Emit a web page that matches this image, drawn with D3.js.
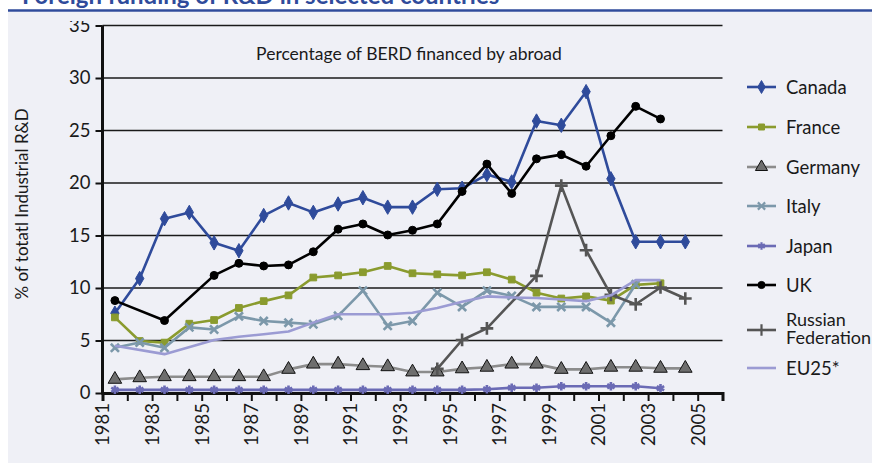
<!DOCTYPE html>
<html>
<head>
<meta charset="utf-8">
<script src="https://cdn.jsdelivr.net/npm/d3@7"></script>
<style>
  body { margin: 0; background: #fff; }
  text { font-family: Lato, "Open Sans", sans-serif; fill: #1a1a1a; }
</style>
</head>
<body>
<div class="chart"></div>
<script>
// years 1981..2004, null = no value
var years = d3.range(1981, 2005);
var canada  = [7.6,10.9,16.6,17.2,14.3,13.55,16.9,18.1,17.2,18.0,18.6,17.7,17.7,19.4,19.5,20.8,20.1,25.9,25.5,28.7,20.4,14.4,14.4,14.4];
var france  = [7.2,4.95,4.8,6.6,6.95,8.1,8.75,9.3,11.0,11.2,11.5,12.1,11.4,11.3,11.2,11.5,10.8,9.55,9.0,9.2,8.8,10.3,10.45,null];
var germany = [1.3,1.45,1.55,1.55,1.55,1.55,1.55,2.25,2.75,2.75,2.6,2.5,2.0,2.0,2.3,2.45,2.75,2.75,2.25,2.25,2.45,2.45,2.35,2.35];
var italy   = [4.3,4.8,4.3,6.25,6.05,7.3,6.85,6.7,6.55,7.35,9.75,6.4,6.85,9.55,8.2,9.75,9.25,8.2,8.2,8.2,6.7,10.35,null,null];
var japan   = [0.3,0.3,0.3,0.3,0.3,0.3,0.3,0.3,0.3,0.3,0.3,0.3,0.3,0.3,0.3,0.35,0.5,0.5,0.65,0.65,0.65,0.65,0.45,null];
var uk      = [8.8,null,6.9,null,11.2,12.35,12.1,12.2,13.45,15.6,16.1,15.05,15.5,16.1,19.2,21.8,19.0,22.3,22.7,21.6,24.5,27.3,26.1,null];
var russia  = [null,null,null,null,null,null,null,null,null,null,null,null,null,2.3,5.05,6.15,null,11.15,19.75,13.6,9.35,8.45,10.05,9.0];
var eu25    = [4.5,null,3.7,null,5.05,5.35,5.6,5.85,6.7,7.5,7.5,7.5,7.65,8.1,8.7,9.2,9.1,9.05,8.9,8.75,9.3,10.75,10.75,null];

var yTicks = [0,5,10,15,20,25,30,35];
var xLabels = d3.range(1981, 2006, 2);

var series = [
  {name:"Canada", values:canada, color:"#2f4b9b", symbol:d3.symbolDiamond, size:60, fill:true},
  {name:"France", values:france, color:"#8a9b2e", symbol:d3.symbolSquare, size:45, fill:true},
  {name:"Germany", values:germany, color:"#8c8c8c", symbol:d3.symbolTriangle, size:80, fill:true, mfill:"#6e6e6e", mstroke:"#111"},
  {name:"Italy", values:italy, color:"#7c98aa", symbol:d3.symbolX, size:45, fill:false},
  {name:"Japan", values:japan, color:"#6b6bb5", symbol:d3.symbolAsterisk, size:50, fill:false},
  {name:"UK", values:uk, color:"#000000", symbol:d3.symbolCircle, size:50, fill:true},
  {name:"Russian Federation", values:russia, color:"#555555", symbol:d3.symbolPlus, size:55, fill:false},
  {name:"EU25*", values:eu25, color:"#9b9bd3", symbol:null}
];

var W = 872, H = 463;
var svg = d3.select(".chart").append("svg")
  .attr("width", W).attr("height", H);

// page title (cut off at top) and rule
svg.append("text")
  .attr("x", 22).attr("y", 4)
  .style("font-size", "24px").style("font-weight", "bold")
  .style("fill", "#2f4b9b")
  .text("Foreign funding of R&D in selected countries");
svg.append("rect").attr("x", 8).attr("y", 12).attr("width", W - 8).attr("height", H - 12)
  .attr("fill", "#eff0f6");
svg.append("line").attr("x1", 8).attr("x2", W).attr("y1", 10.5).attr("y2", 10.5)
  .attr("stroke", "#2f4b9b").attr("stroke-width", 2.5);

var x = d3.scaleLinear().domain([1981, 2006]).range([102.5, 722.5]);
var y = d3.scaleLinear().domain([0, 35]).range([393, 25.5]);

svg.append("defs").append("clipPath").attr("id", "cut")
  .append("rect").attr("x", -200).attr("y", 21).attr("width", W).attr("height", H);

// gridlines
svg.append("g").selectAll("line")
  .data(yTicks.filter(function(d){ return d > 0; }))
  .enter().append("line")
  .attr("x1", x(1981)).attr("x2", x(2006))
  .attr("y1", function(d){ return y(d); }).attr("y2", function(d){ return y(d); })
  .attr("stroke", "#1a1a1a").attr("stroke-width", 1.3);

// y axis
var yAxis = svg.append("g")
  .attr("transform", "translate(" + x(1981) + ",0)")
  .attr("clip-path", "url(#cut)")
  .call(d3.axisLeft(y).tickValues(yTicks).tickSize(7).tickPadding(5));
yAxis.select(".domain").remove();
yAxis.selectAll(".tick line").attr("stroke", "#111").attr("stroke-width", 2);
yAxis.selectAll(".tick text").style("font-size", "18.5px").style("font-family", "Lato, sans-serif").attr("fill", "#1a1a1a");
svg.append("line").attr("x1", x(1981)).attr("x2", x(1981)).attr("y1", y(35)).attr("y2", y(0) + 1.5)
  .attr("stroke", "#111").attr("stroke-width", 3);

// x axis
var xAxis = svg.append("g")
  .attr("transform", "translate(0," + y(0) + ")")
  .call(d3.axisBottom(x).tickValues(d3.range(1981, 2007)).tickSize(8).tickFormat(function(d){
    return xLabels.indexOf(d) >= 0 ? d : "";
  }));
xAxis.select(".domain").attr("stroke", "#111").attr("stroke-width", 3);
xAxis.selectAll(".tick line").attr("stroke", "#111").attr("stroke-width", 2);
xAxis.selectAll(".tick text")
  .style("font-size", "18.5px").style("font-family", "Lato, sans-serif").attr("fill", "#1a1a1a")
  .attr("transform", "rotate(-90)")
  .attr("x", -10).attr("y", 0).attr("dy", "0.35em")
  .attr("text-anchor", "end");

// y axis title
svg.append("text")
  .attr("transform", "translate(28,204) rotate(-90)")
  .attr("text-anchor", "middle")
  .style("font-size", "17px")
  .text("% of totatl Industrial R&D");

// chart subtitle
svg.append("text")
  .attr("x", 409).attr("y", 60)
  .attr("text-anchor", "middle")
  .style("font-size", "17.5px")
  .text("Percentage of BERD financed by abroad");

// lines
var line = d3.line()
  .x(function(d){ return x(d.year + 0.5); })
  .y(function(d){ return y(d.value); });

series.forEach(function(s){
  var pts = years.map(function(yr, i){ return {year: yr, value: s.values[i]}; })
                 .filter(function(d){ return d.value != null; });
  var g = svg.append("g");
  g.append("path")
    .attr("d", line(pts))
    .attr("fill", "none")
    .attr("stroke", s.color)
    .attr("stroke-width", 2.6)
    .attr("stroke-linejoin", "round");
  if (s.symbol) {
    var sym = d3.symbol().type(s.symbol).size(s.size);
    g.selectAll(".m").data(pts).enter().append("path")
      .attr("transform", function(d){ return "translate(" + x(d.year + 0.5) + "," + y(d.value) + ")"; })
      .attr("d", sym)
      .attr("fill", s.fill ? (s.mfill || s.color) : "none")
      .attr("stroke", s.mstroke || s.color)
      .attr("stroke-width", s.fill ? 1 : 2.6);
  }
});

// legend
var legendY = [87, 127, 167, 206, 246, 285, 330, 368];
var lg = svg.append("g");
series.forEach(function(s, i){
  var ly = legendY[i];
  lg.append("line").attr("x1", 747).attr("x2", 776).attr("y1", ly).attr("y2", ly)
    .attr("stroke", s.color).attr("stroke-width", 2.6);
  if (s.symbol) {
    lg.append("path")
      .attr("transform", "translate(761.5," + ly + ")")
      .attr("d", d3.symbol().type(s.symbol).size(s.size * 0.8))
      .attr("fill", s.fill ? (s.mfill || s.color) : "none")
      .attr("stroke", s.mstroke || s.color)
      .attr("stroke-width", s.fill ? 1 : 2.2);
  }
  if (s.name === "Russian Federation") {
    var t = lg.append("text").attr("x", 786).attr("y", ly).style("font-size", "18px");
    t.append("tspan").attr("x", 786).attr("dy", "-0.25em").text("Russian");
    t.append("tspan").attr("x", 786).attr("dy", "1.05em").text("Federation");
  } else {
    lg.append("text").attr("x", 786).attr("y", ly).attr("dy", "0.36em")
      .style("font-size", "18.5px").text(s.name);
  }
});
</script>
</body>
</html>
